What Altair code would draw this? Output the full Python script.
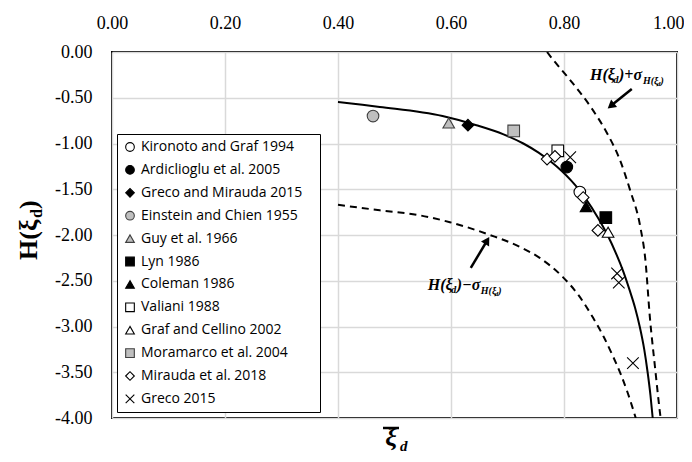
import altair as alt
import pandas as pd

# ---------------- data ----------------
series_names = ["Kironoto and Graf 1994", "Ardiclioglu et al. 2005", "Greco and Mirauda 2015",
                "Einstein and Chien 1955", "Guy et al. 1966", "Lyn 1986", "Coleman 1986",
                "Valiani 1988", "Graf and Cellino 2002", "Moramarco et al. 2004",
                "Mirauda et al. 2018", "Greco 2015"]

pt_series = ["Kironoto and Graf 1994", "Ardiclioglu et al. 2005", "Greco and Mirauda 2015",
             "Einstein and Chien 1955", "Guy et al. 1966", "Lyn 1986", "Coleman 1986",
             "Valiani 1988", "Graf and Cellino 2002", "Moramarco et al. 2004",
             "Mirauda et al. 2018", "Mirauda et al. 2018", "Mirauda et al. 2018", "Mirauda et al. 2018",
             "Greco 2015", "Greco 2015", "Greco 2015", "Greco 2015"]
pt_x = [0.828, 0.805, 0.630, 0.462, 0.596, 0.874, 0.839, 0.789, 0.878, 0.711,
        0.770, 0.784, 0.860, 0.834, 0.811, 0.894, 0.897, 0.922]
pt_y = [-1.53, -1.257, -0.80, -0.70, -0.776, -1.81, -1.69, -1.08, -1.97, -0.863,
        -1.17, -1.14, -1.95, -1.59, -1.15, -2.42, -2.52, -3.40]

curve_x = [0.40, 0.474, 0.585, 0.645, 0.693, 0.728, 0.755, 0.777, 0.796, 0.812, 0.826,
           0.838, 0.859, 0.877, 0.892, 0.905, 0.916, 0.926, 0.934, 0.942, 0.948, 0.953, 0.957]
curve_y = [-0.546, -0.60, -0.70, -0.80, -0.90, -1.00, -1.10, -1.20, -1.30, -1.40, -1.50,
           -1.60, -1.80, -2.00, -2.20, -2.40, -2.60, -2.80, -3.00, -3.25, -3.50, -3.75, -4.00]

upper_x = [0.770, 0.781, 0.810, 0.851, 0.876, 0.899, 0.917, 0.935, 0.944, 0.952, 0.961, 0.970, 0.971]
upper_y = [0.0, -0.087, -0.30, -0.634, -0.885, -1.18, -1.51, -1.91, -2.27, -2.90, -3.44, -3.95, -4.0]

lower_x = [0.40, 0.474, 0.54, 0.598, 0.669, 0.722, 0.757, 0.798, 0.826, 0.851, 0.870,
           0.887, 0.901, 0.913, 0.927]
lower_y = [-1.67, -1.73, -1.78, -1.86, -2.00, -2.13, -2.25, -2.46, -2.66, -2.90, -3.11,
           -3.33, -3.53, -3.73, -4.0]

x_ticks = [0.0, 0.2, 0.4, 0.6, 0.8, 1.0]
y_ticks = [0.0, -0.5, -1.0, -1.5, -2.0, -2.5, -3.0, -3.5, -4.0]

# annotation anchors (data coords) and arrows
ann_x = [0.846, 0.559]
ann_y = [-0.306, -2.60]
ann_sign = ["+", "\u2212"]
arrow_x1 = [0.920, 0.635]
arrow_y1 = [-0.404, -2.36]
arrow_x2 = [0.883, 0.664]
arrow_y2 = [-0.588, -2.06]
arrow_angle = [231, 31]

# ---------------- styling ----------------
shapes = ["circle", "circle", "diamond", "circle", "triangle-up", "square", "triangle-up",
          "square", "triangle-up", "square", "diamond", "M-1,-1L1,1M-1,1L1,-1"]
fills = ["white", "black", "black", "#bfbfbf", "#bfbfbf", "black", "black", "white", "white",
         "#bfbfbf", "white", "transparent"]
strokes = ["black", "black", "black", "#404040", "#404040", "black", "black", "black", "black",
           "#404040", "black", "black"]
widths = [1.1] * 11 + [1.8]

xs = alt.Scale(domain=[0, 1], nice=False, zero=False)
ys = alt.Scale(domain=[-4, 0], nice=False, zero=False)

df_pts = pd.DataFrame({"series": pt_series, "x": pt_x, "y": pt_y})

# transparent right-side legend title only widens the legend box a little
leg = alt.Legend(title="M", titleOrient="right", titleColor="rgba(0,0,0,0)", titleFontSize=8,
                 titlePadding=5, labelLimit=300)
x_axis = alt.Axis(
    orient="top", values=x_ticks, format=".2f", title=None,
    labelAlign={"condition": {"test": "datum.value >= 1", "value": "right"}, "value": "center"},
    labelOffset={"condition": {"test": "datum.value >= 1", "value": 7}, "value": 0},
)
points = alt.Chart(df_pts).mark_point(filled=True, opacity=1, size=135).encode(
    x=alt.X("x:Q", scale=xs, axis=x_axis),
    y=alt.Y("y:Q", scale=ys, axis=alt.Axis(values=y_ticks, title=None,
                                             labelExpr="replace(format(datum.value, '.2f'), '\u2212', '-')")),
    shape=alt.Shape("series:N", scale=alt.Scale(domain=series_names, range=shapes), legend=leg),
    fill=alt.Fill("series:N", scale=alt.Scale(domain=series_names, range=fills), legend=leg),
    stroke=alt.Stroke("series:N", scale=alt.Scale(domain=series_names, range=strokes), legend=leg),
    strokeWidth=alt.StrokeWidth("series:N", scale=alt.Scale(domain=series_names, range=widths), legend=leg),
)

def line_df(xv, yv):
    return pd.DataFrame({"x": xv, "y": yv, "i": list(range(len(xv)))})

solid = alt.Chart(line_df(curve_x, curve_y)).mark_line(color="black", strokeWidth=2, clip=True, interpolate="monotone").encode(
    x=alt.X("x:Q", scale=xs), y=alt.Y("y:Q", scale=ys), order="i:Q")
upper = alt.Chart(line_df(upper_x, upper_y)).mark_line(color="black", strokeWidth=2, strokeDash=[7, 5], clip=True, interpolate="monotone").encode(
    x=alt.X("x:Q", scale=xs), y=alt.Y("y:Q", scale=ys), order="i:Q")
lower = alt.Chart(line_df(lower_x, lower_y)).mark_line(color="black", strokeWidth=2, strokeDash=[7, 5], clip=True, interpolate="monotone").encode(
    x=alt.X("x:Q", scale=xs), y=alt.Y("y:Q", scale=ys), order="i:Q")

df_arr = pd.DataFrame({"x": arrow_x1, "y": arrow_y1, "x2": arrow_x2, "y2": arrow_y2, "a": arrow_angle})
arr_line = alt.Chart(df_arr).mark_rule(color="black", strokeWidth=2.5).encode(
    x=alt.X("x:Q", scale=xs), y=alt.Y("y:Q", scale=ys), x2="x2:Q", y2="y2:Q")
arr_head = alt.Chart(df_arr).mark_point(shape="triangle-up", filled=True, color="black", opacity=1, size=90).encode(
    x=alt.X("x2:Q", scale=xs), y=alt.Y("y2:Q", scale=ys), angle=alt.Angle("a:Q", scale=None))

# annotation text pieces: (text, font size, dx, dy)
layers = [solid, upper, lower, points, arr_line, arr_head]
for k in range(2):
    pieces = [("H(\u03be", 16, 0, 0), ("d", 10, 23.5, 3), (")" + ann_sign[k] + "\u03c3", 16, 29, 0),
              ("H(\u03be", 10, 53, 4), ("d", 7, 67, 6), (")", 10, 70.5, 4)]
    dfa = pd.DataFrame({"x": [ann_x[k]], "y": [ann_y[k]]})
    for t, fs, dx, dy in pieces:
        layers.append(alt.Chart(dfa).mark_text(text=t, font="Liberation Serif", fontSize=fs, fontWeight="bold",
                                               fontStyle="italic", align="left", baseline="alphabetic",
                                               dx=dx, dy=dy, color="black").encode(
            x=alt.X("x:Q", scale=xs), y=alt.Y("y:Q", scale=ys)))

# axis titles (pixel placed, relative to plot area)
one = pd.DataFrame({"v": [0]})
def ptext(t, px, py, **kw):
    return alt.Chart(one).mark_text(text=t, font="Liberation Serif", color="black", **kw).encode(
        x=alt.value(px), y=alt.value(py))

layers += [
    ptext("H(\u03be", -75, 208, fontSize=26, fontWeight="bold", angle=270, align="left", baseline="alphabetic"),
    ptext("d", -70, 166, fontSize=16, fontWeight="bold", angle=270, align="left", baseline="alphabetic"),
    ptext(")", -75, 157, fontSize=26, fontWeight="bold", angle=270, align="left", baseline="alphabetic"),
    ptext("\u03be", 279, 394, fontSize=26, fontWeight="bold", fontStyle="italic", align="center", baseline="alphabetic"),
    ptext("d", 288, 399, fontSize=15, fontWeight="bold", fontStyle="italic", align="left", baseline="alphabetic"),
    alt.Chart(one).mark_rule(color="black", strokeWidth=2.5).encode(
        x=alt.value(271), x2=alt.value(287), y=alt.value(376)),
]

chart = alt.layer(*layers).properties(
    width=565, height=366, autosize="none",
    padding={"left": 104, "top": 44, "right": 7, "bottom": 36},
).configure_view(stroke="black", strokeWidth=2).configure_axis(
    grid=True, gridColor="#d9d9d9", gridWidth=1.5, domain=False, ticks=False,
    labelFont="Liberation Serif", labelFontSize=18, labelColor="black", labelPadding=20,
    labelFlush=False, labelOverlap=False,
).configure_legend(
    orient="none", legendX=5, legendY=82, strokeColor="black", fillColor="white", padding=6,
    labelFont="Open Sans", labelFontSize=14, labelColor="black", symbolSize=75, rowPadding=8.9,
    cornerRadius=0,
)

chart.save("out.html", embed_options={"renderer": "svg", "actions": False})
